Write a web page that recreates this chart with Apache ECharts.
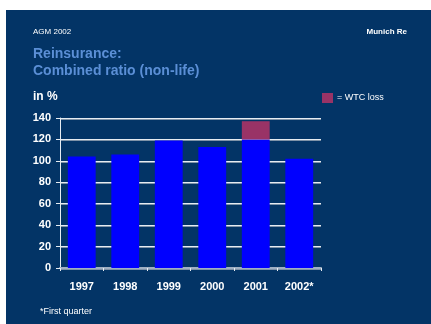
<!DOCTYPE html>
<html>
<head>
<meta charset="utf-8">
<style>
  html, body { margin: 0; padding: 0; background: #ffffff; }
  #chart { width: 431px; height: 324px; }
</style>
<script src="https://cdn.jsdelivr.net/npm/echarts@6/dist/echarts.min.js"></script>
</head>
<body>
<div id="chart"></div>
<script>
// Combined ratio (non-life), in %
const years = ['1997', '1998', '1999', '2000', '2001', '2002*'];
const combinedRatio = [104, 106, 119, 113, 120, 102];
const wtcLoss = [0, 0, 0, 0, 17, 0];
const yTicks = [0, 20, 40, 60, 80, 100, 120, 140];

const panelColor = '#033466';
const font = 'Liberation Sans, Arial, sans-serif';

const chart = echarts.init(document.getElementById('chart'), null, { renderer: 'canvas' });

chart.setOption({
  backgroundColor: '#ffffff',
  animation: false,
  graphic: [
    { type: 'rect', shape: { x: 6, y: 10, width: 425, height: 314 }, style: { fill: panelColor }, z: -10 },
    { type: 'text', left: 33, top: 28, style: { text: 'AGM 2002', fill: '#ffffff', font: '8px ' + font } },
    { type: 'text', right: 24, top: 28, style: { text: 'Munich Re', fill: '#ffffff', font: 'bold 8px ' + font } },
    { type: 'text', left: 33, top: 46, style: { text: 'Reinsurance:\nCombined ratio (non-life)', fill: '#5b8fd6', font: 'bold 14px ' + font, lineHeight: 17 } },
    { type: 'text', left: 33, top: 91, style: { text: 'in %', fill: '#ffffff', font: 'bold 12px ' + font } },
    { type: 'rect', shape: { x: 322, y: 93, width: 11, height: 10 }, style: { fill: '#993366' } },
    { type: 'text', left: 337, top: 93, style: { text: '= WTC loss', fill: '#ffffff', font: '9px ' + font } },
    { type: 'text', left: 40, top: 307, style: { text: '*First quarter', fill: '#ffffff', font: '9px ' + font } }
  ],
  grid: { left: 60, right: 110, top: 118, bottom: 56 },
  xAxis: {
    type: 'category',
    data: years,
    axisLine: { lineStyle: { color: '#9fb0c4', width: 2 } },
    axisTick: { show: true, length: 3, lineStyle: { color: '#e6ecf2' } },
    axisLabel: { color: '#ffffff', fontWeight: 'bold', fontSize: 11, fontFamily: font, margin: 13 }
  },
  yAxis: {
    type: 'value',
    min: yTicks[0],
    max: yTicks[yTicks.length - 1],
    interval: 20,
    axisLine: { show: true, lineStyle: { color: '#e6ecf2', width: 1 } },
    axisTick: { show: true, length: 4, lineStyle: { color: '#e6ecf2' } },
    axisLabel: { color: '#ffffff', fontWeight: 'bold', fontSize: 11, fontFamily: font, margin: 9 },
    splitLine: { show: true, lineStyle: { color: '#e6ecf2', width: 1, shadowColor: '#7f93a8', shadowOffsetY: 1 } }
  },
  series: [
    {
      type: 'bar',
      stack: 'ratio',
      data: combinedRatio,
      barCategoryGap: '36%',
      itemStyle: { color: '#0000ff' }
    },
    {
      type: 'bar',
      stack: 'ratio',
      data: wtcLoss,
      itemStyle: { color: '#993366' }
    }
  ]
});
</script>
</body>
</html>
